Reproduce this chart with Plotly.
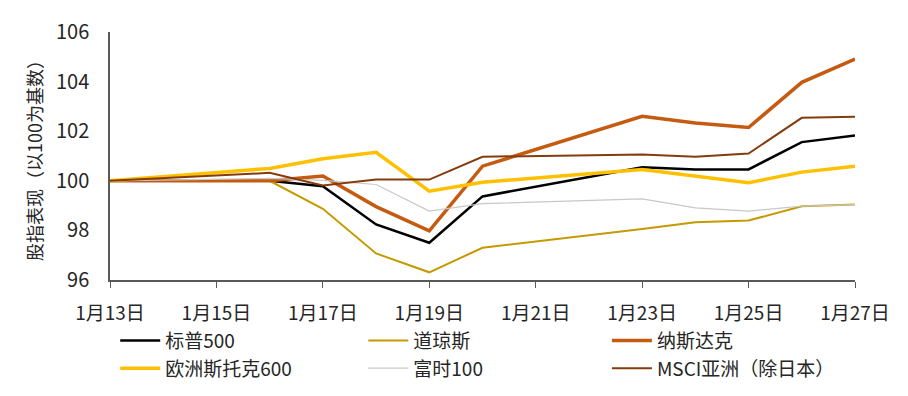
import plotly.graph_objects as go

dates = ["2023-01-13", "2023-01-16", "2023-01-17", "2023-01-18", "2023-01-19", "2023-01-20",
         "2023-01-23", "2023-01-24", "2023-01-25", "2023-01-26", "2023-01-27"]

sp500 = [100, 100, 99.78, 98.24, 97.50, 99.37, 100.55, 100.46, 100.46, 101.56, 101.83]
dow = [100, 100, 98.87, 97.07, 96.31, 97.30, 98.06, 98.33, 98.40, 98.97, 99.04]
nasdaq = [100, 100, 100.19, 98.96, 97.98, 100.59, 102.60, 102.33, 102.15, 103.97, 104.91]
stoxx600 = [100, 100.50, 100.89, 101.15, 99.58, 99.94, 100.46, 100.19, 99.92, 100.35, 100.59]
ftse100 = [100, 100.10, 100.02, 99.85, 98.78, 99.08, 99.27, 98.91, 98.78, 98.98, 99.04]
msci_asia = [100, 100.32, 99.81, 100.05, 100.05, 100.97, 101.06, 100.97, 101.10, 102.54, 102.58]

tick_vals = ["2023-01-13", "2023-01-15", "2023-01-17", "2023-01-19", "2023-01-21",
             "2023-01-23", "2023-01-25", "2023-01-27"]
tick_text = ["1月13日", "1月15日", "1月17日", "1月19日", "1月21日", "1月23日", "1月25日", "1月27日"]

# (name, values, colour, width, legend column)
series = [
    ("标普500", sp500, "#000000", 2.5, "legend"),
    ("道琼斯", dow, "#C49A00", 2.0, "legend2"),
    ("纳斯达克", nasdaq, "#C55A11", 3.5, "legend3"),
    ("欧洲斯托克600", stoxx600, "#FFC000", 3.5, "legend"),
    ("富时100", ftse100, "#C8C8C8", 1.2, "legend2"),
    ("MSCI亚洲（除日本）", msci_asia, "#843C0C", 2.0, "legend3"),
]

fig = go.Figure()
for name, vals, color, w, lg in series:
    fig.add_trace(go.Scatter(x=dates, y=vals, name=name, mode="lines", legend=lg,
                             line=dict(color=color, width=w)))

font_family = "Noto Sans CJK SC, Noto Sans, sans-serif"
legend_common = dict(orientation="v", y=-0.168, xanchor="left", yanchor="top",
                     traceorder="normal", font=dict(size=19, color="#262626"),
                     tracegroupgap=0, itemwidth=40, bgcolor="rgba(0,0,0,0)")
fig.update_layout(
    width=900, height=388,
    margin=dict(l=102, r=53, t=24, b=116, autoexpand=False),
    paper_bgcolor="white", plot_bgcolor="white",
    font=dict(family=font_family, size=18, color="#262626"),
    showlegend=True,
    legend=dict(x=0.007, **legend_common),
    legend2=dict(x=0.340, **legend_common),
    legend3=dict(x=0.667, **legend_common),
    xaxis=dict(type="date", range=["2023-01-13", "2023-01-27"], tickvals=tick_vals,
               ticktext=tick_text, showgrid=False, showline=True, linecolor="#595959",
               linewidth=1.5, ticks="outside", ticklen=6, tickcolor="#595959",
               tickfont=dict(size=19), zeroline=False, ticklabelstandoff=9),
    yaxis=dict(range=[96, 106], dtick=2, showgrid=False, showline=True, linecolor="#595959",
               linewidth=1.5, ticks="", tickfont=dict(size=20), zeroline=False,
               ticklabelstandoff=15,
               title=dict(text="股指表现（以100为基数）", font=dict(size=18), standoff=9)),
)

fig.write_html("out.html")
